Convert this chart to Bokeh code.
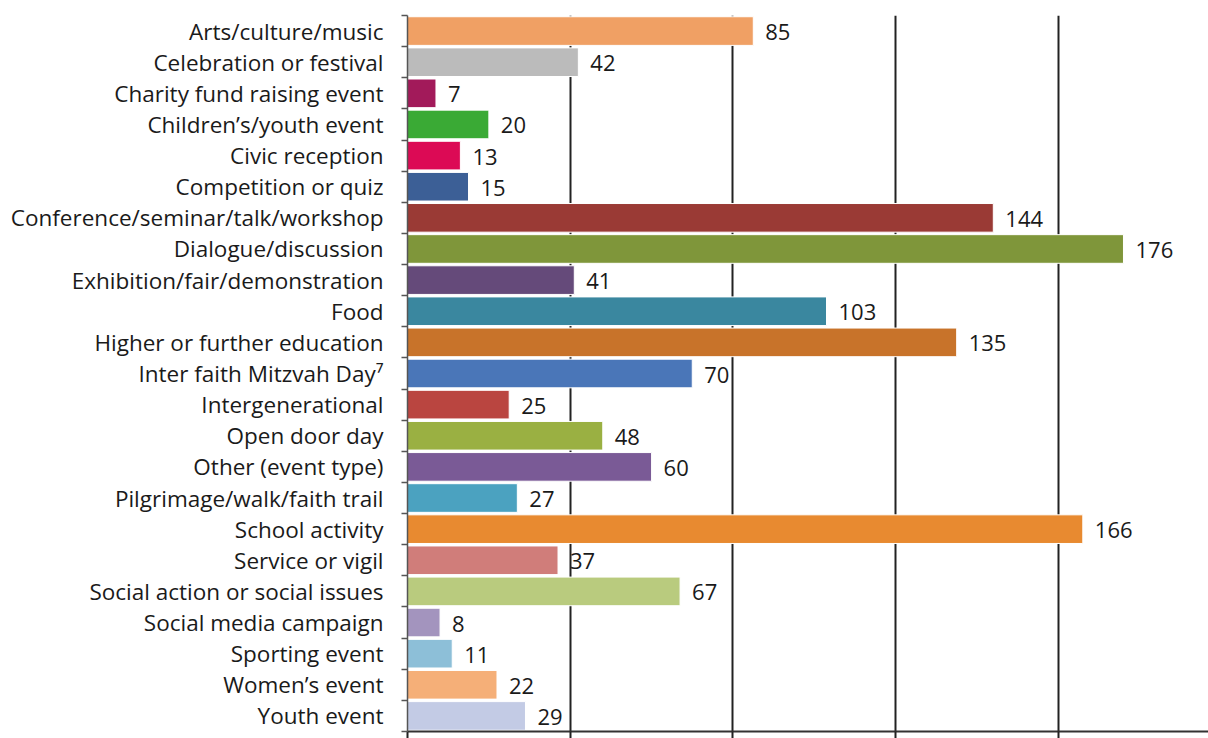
from bokeh.plotting import figure
from bokeh.models import ColumnDataSource, FixedTicker, Range1d
from bokeh.core.properties import value
from bokeh.embed import file_html
from bokeh.resources import INLINE

categories = [
    "Arts/culture/music", "Celebration or festival", "Charity fund raising event",
    "Children\u2019s/youth event", "Civic reception", "Competition or quiz",
    "Conference/seminar/talk/workshop", "Dialogue/discussion",
    "Exhibition/fair/demonstration", "Food", "Higher or further education",
    "Inter faith Mitzvah Day\u2077", "Intergenerational", "Open door day",
    "Other (event type)", "Pilgrimage/walk/faith trail", "School activity",
    "Service or vigil", "Social action or social issues", "Social media campaign",
    "Sporting event", "Women\u2019s event", "Youth event",
]
counts = [85, 42, 7, 20, 13, 15, 144, 176, 41, 103, 135, 70, 25, 48, 60, 27,
          166, 37, 67, 8, 11, 22, 29]
colors = [
    "#F0A064", "#BBBBBB", "#A21A5A", "#3AAA35", "#DC0A55", "#3C5F96",
    "#9A3A35", "#7F963A", "#654A7A", "#3A879F", "#C8732A", "#4A76B8",
    "#BA4540", "#9AB042", "#7A5A96", "#4BA2C0", "#E88A30", "#D07D7A",
    "#B9CB7E", "#A394BE", "#8DBFD8", "#F5AF78", "#C3CBE5",
]
x_ticks = [0, 40, 80, 120, 160, 200]

n = len(categories)
ys = [n - i - 0.5 for i in range(n)]
labels = [str(c) for c in counts]

src = ColumnDataSource(dict(y=ys, right=counts, color=colors, label=labels, cat=categories))

FONT = "Open Sans"

p = figure(
    frame_width=801, frame_height=716,
    x_range=Range1d(0, 196.9), y_range=Range1d(0, n),
    output_backend="svg", toolbar_location=None,
    min_border_left=407, min_border_top=15, min_border_right=0, min_border_bottom=0,
)
p.outline_line_color = None
p.background_fill_color = "white"

# grid
p.ygrid.grid_line_color = None
p.xgrid.grid_line_color = "#222222"
p.xgrid.grid_line_width = 2
p.xgrid.ticker = FixedTicker(ticks=x_ticks)

p.hbar(y="y", left=0, right="right", height=0.92, fill_color="color",
       line_color="white", line_width=1, source=src)

p.text(x="right", y="y", text="label", source=src, x_offset=12, y_offset=1,
       text_font=value(FONT), text_font_size="22px", text_color="#1a1a1a",
       text_baseline="middle", text_align="left")

# y axis
yax = p.yaxis[0]
yax.ticker = FixedTicker(ticks=ys, minor_ticks=[float(i) for i in range(n + 1)])
yax.major_label_overrides = {y: c for y, c in zip(ys, categories)}
yax.major_tick_line_color = None
yax.major_tick_out = 0
yax.major_tick_in = 0
yax.minor_tick_out = 6
yax.minor_tick_in = 0
yax.minor_tick_line_color = "#555555"
yax.minor_tick_line_width = 1.5
yax.axis_line_color = "#555555"
yax.axis_line_width = 1.5
yax.major_label_text_font = FONT
yax.major_label_text_font_size = "22.5px"
yax.major_label_text_color = "#1a1a1a"
yax.major_label_standoff = 18

# x axis (tick labels fall below the visible area in the reference)
xax = p.xaxis[0]
xax.ticker = FixedTicker(ticks=x_ticks)
xax.major_label_overrides = {t: "" for t in x_ticks}
xax.major_label_text_font_size = "1px"
xax.major_label_standoff = 0
xax.major_tick_out = 7
xax.major_tick_in = 0
xax.major_tick_line_color = "#222222"
xax.major_tick_line_width = 2
xax.minor_tick_line_color = None
xax.axis_line_color = "#333333"
xax.axis_line_width = 2

open("out.html", "w").write(file_html(p, INLINE))
